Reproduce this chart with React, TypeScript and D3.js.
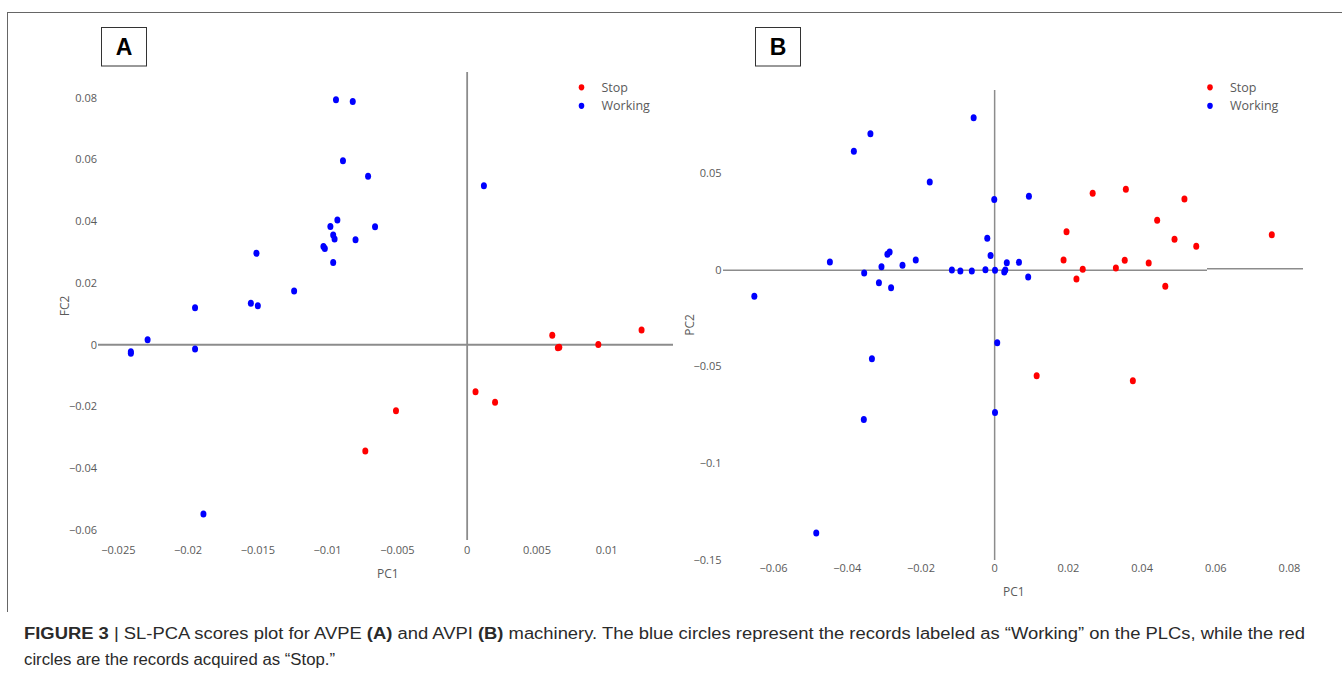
import React from "react";
import * as d3 from "d3";

// ---------- Panel A (AVPE) ----------
const aWorkingPC1 = [-0.0094, -0.0082, -0.0089, -0.0071, -0.0093, -0.0098, -0.0066, -0.0096, -0.0095, -0.008, -0.0103, -0.0102, -0.0096, -0.0151, -0.0124, -0.0155, -0.015, -0.0195, -0.0229, -0.0241, -0.0241, -0.0195, -0.0189, 0.0012];
const aWorkingPC2 = [0.0793, 0.0788, 0.0596, 0.0546, 0.0404, 0.0383, 0.0382, 0.0355, 0.0342, 0.034, 0.0318, 0.0312, 0.0266, 0.0296, 0.0174, 0.0134, 0.0126, 0.012, 0.0016, -0.0023, -0.0028, -0.0014, -0.0548, 0.0515];
const aStopPC1 = [0.0061, 0.0065, 0.0066, 0.0094, 0.0125, 0.0006, 0.002, -0.0051, -0.0073];
const aStopPC2 = [0.0031, -0.001, -0.0008, 0.0001, 0.0048, -0.0152, -0.0186, -0.0214, -0.0344];
const aXTicks = [-0.025, -0.02, -0.015, -0.01, -0.005, 0, 0.005, 0.01];
const aXTickLabels = ["\u22120.025", "\u22120.02", "\u22120.015", "\u22120.01", "\u22120.005", "0", "0.005", "0.01"];
const aYTicks = [-0.06, -0.04, -0.02, 0, 0.02, 0.04, 0.06, 0.08];
const aYTickLabels = ["\u22120.06", "\u22120.04", "\u22120.02", "0", "0.02", "0.04", "0.06", "0.08"];

// ---------- Panel B (AVPI) ----------
const bWorkingPC1 = [-0.0057, -0.0337, -0.0382, -0.0176, -0.0001, -0.002, -0.0011, 0.0033, -0.0447, -0.0285, -0.0291, -0.0307, -0.0354, -0.0314, -0.0281, -0.025, -0.0214, -0.0652, -0.0116, -0.0093, -0.0062, -0.0025, 0.0001, 0.0026, 0.0029, 0.0066, 0.0093, 0.0091, 0.0007, -0.0333, 0.0001, -0.0355, -0.0484];
const bWorkingPC2 = [0.0784, 0.0701, 0.0611, 0.0452, 0.0361, 0.0161, 0.0073, 0.0035, 0.0039, 0.009, 0.0079, 0.0014, -0.0018, -0.0068, -0.0094, 0.0022, 0.0049, -0.0138, -0.0003, -0.0008, -0.0008, -0.0001, -0.0004, -0.0013, -0.0003, 0.0037, 0.0378, -0.0039, -0.0378, -0.0461, -0.0738, -0.0774, -0.136];
const bStopPC1 = [0.0266, 0.0356, 0.0515, 0.0441, 0.0195, 0.0488, 0.0547, 0.0752, 0.0187, 0.0353, 0.0418, 0.0329, 0.0239, 0.0222, 0.0463, 0.0114, 0.0375];
const bStopPC2 = [0.0394, 0.0414, 0.0364, 0.0254, 0.0195, 0.0156, 0.012, 0.018, 0.0049, 0.0048, 0.0034, 0.0008, 0.0001, -0.0049, -0.0087, -0.0549, -0.0574];
const bXTicks = [-0.06, -0.04, -0.02, 0, 0.02, 0.04, 0.06, 0.08];
const bXTickLabels = ["\u22120.06", "\u22120.04", "\u22120.02", "0", "0.02", "0.04", "0.06", "0.08"];
const bYTicks = [-0.15, -0.1, -0.05, 0, 0.05];
const bYTickLabels = ["\u22120.15", "\u22120.1", "\u22120.05", "0", "0.05"];

const seriesNames = ["Stop", "Working"];
const seriesColors = ["#ff0000", "#0000ff"];

const TICK_FONT = "'Open Sans', 'DejaVu Sans', sans-serif";
const TEXT_GRAY = "#5a5a5a";
const AXIS_GRAY = "#8c8c8c";

type PanelProps = {
  letter: string;
  xScale: d3.ScaleLinear<number, number>;
  yScale: d3.ScaleLinear<number, number>;
  xTicks: number[];
  xTickLabels: string[];
  yTicks: number[];
  yTickLabels: string[];
  xTickY: number;
  yTickX: number;
  hLine: [number, number];
  vLine: [number, number];
  hSplit?: number;
  axisWidth: number;
  yLabel: string;
  yLabelPos: [number, number];
  xLabelPos: [number, number];
  legendPos: [number, number];
  boxX: number;
  stop: [number[], number[]];
  working: [number[], number[]];
};

function Panel(p: PanelProps) {
  const x0 = p.xScale(0);
  const y0 = p.yScale(0);
  const dots = (xs: number[], ys: number[], color: string) =>
    xs.map((v, i) => (
      <ellipse key={i} cx={p.xScale(v)} cy={p.yScale(ys[i])} rx={3} ry={3.5} fill={color} />
    ));
  return (
    <g>
      {/* panel letter box */}
      <rect x={p.boxX + 0.5} y={27.5} width={45} height={38.5} fill="#fff" stroke="#333" strokeWidth={1} />
      <text x={p.boxX + 23} y={55} textAnchor="middle" fontFamily="'Liberation Sans', Arial, sans-serif" fontWeight="bold" fontSize={23} fill="#000">
        {p.letter}
      </text>
      {/* zero axes */}
      {p.hSplit === undefined ? (
        <line x1={p.hLine[0]} x2={p.hLine[1]} y1={y0} y2={y0} stroke={AXIS_GRAY} strokeWidth={p.axisWidth} />
      ) : (
        <g>
          <line x1={p.hLine[0]} x2={p.hSplit} y1={y0 + 0.6} y2={y0 + 0.6} stroke={AXIS_GRAY} strokeWidth={p.axisWidth} />
          <line x1={p.hSplit} x2={p.hLine[1]} y1={y0 - 0.8} y2={y0 - 0.8} stroke={AXIS_GRAY} strokeWidth={p.axisWidth} />
        </g>
      )}
      <line x1={x0} x2={x0} y1={p.vLine[0]} y2={p.vLine[1]} stroke={AXIS_GRAY} strokeWidth={p.axisWidth} />
      {/* tick labels */}
      {p.xTicks.map((t, i) => (
        <text key={"x" + i} x={p.xScale(t)} y={p.xTickY} textAnchor="middle" fontFamily={TICK_FONT} fontSize={11} fill={TEXT_GRAY}>
          {p.xTickLabels[i]}
        </text>
      ))}
      {p.yTicks.map((t, i) => (
        <text key={"y" + i} x={p.yTickX} y={p.yScale(t) + 4} textAnchor="end" fontFamily={TICK_FONT} fontSize={11} fill={TEXT_GRAY}>
          {p.yTickLabels[i]}
        </text>
      ))}
      {/* axis titles */}
      <text x={p.xLabelPos[0]} y={p.xLabelPos[1]} fontFamily={TICK_FONT} fontSize={12} fill={TEXT_GRAY}>PC1</text>
      <text transform={`translate(${p.yLabelPos[0]},${p.yLabelPos[1]}) rotate(-90)`} textAnchor="middle" fontFamily={TICK_FONT} fontSize={12} fill={TEXT_GRAY}>
        {p.yLabel}
      </text>
      {/* points */}
      {dots(p.stop[0], p.stop[1], seriesColors[0])}
      {dots(p.working[0], p.working[1], seriesColors[1])}
      {/* legend */}
      {seriesNames.map((n, i) => (
        <g key={n} transform={`translate(${p.legendPos[0]},${p.legendPos[1] + i * 18.5})`}>
          <ellipse cx={0} cy={0} rx={2.8} ry={3.1} fill={seriesColors[i]} />
          <text x={20} y={4.5} fontFamily={TICK_FONT} fontSize={12.5} fill={TEXT_GRAY}>{n}</text>
        </g>
      ))}
    </g>
  );
}

export default function App() {
  const W = 1342;
  const H = 682;
  const xA = d3.scaleLinear().domain([-0.025, 0.01]).range([118.3, 606.7]);
  const yA = d3.scaleLinear().domain([-0.06, 0.08]).range([530, 97.7]);
  const xB = d3.scaleLinear().domain([-0.06, 0.08]).range([773.5, 1289.5]);
  const yB = d3.scaleLinear().domain([-0.15, 0.05]).range([560, 172.7]);
  const capFont = "'Liberation Sans Narrow', 'Liberation Sans', Arial, sans-serif";
  return (
    <svg width={W} height={H} style={{ position: "absolute", left: 0, top: 0, background: "#fff" }}>
      <rect x={0} y={0} width={W} height={H} fill="#fff" />
      {/* figure frame */}
      <line x1={7} x2={W} y1={12.5} y2={12.5} stroke="#666" strokeWidth={1} />
      <line x1={7.5} x2={7.5} y1={12} y2={612} stroke="#666" strokeWidth={1} />
      <Panel
        letter="A"
        xScale={xA}
        yScale={yA}
        xTicks={aXTicks}
        xTickLabels={aXTickLabels}
        yTicks={aYTicks}
        yTickLabels={aYTickLabels}
        xTickY={554}
        yTickX={97}
        hLine={[98, 673]}
        vLine={[72, 540]}
        axisWidth={1.8}
        yLabel="FC2"
        yLabelPos={[69, 306]}
        xLabelPos={[377, 578]}
        legendPos={[581.5, 87.3]}
        boxX={101}
        stop={[aStopPC1, aStopPC2]}
        working={[aWorkingPC1, aWorkingPC2]}
      />
      <Panel
        letter="B"
        xScale={xB}
        yScale={yB}
        xTicks={bXTicks}
        xTickLabels={bXTickLabels}
        yTicks={bYTicks}
        yTickLabels={bYTickLabels}
        xTickY={572}
        yTickX={721.5}
        hLine={[723, 1303]}
        vLine={[90, 560]}
        hSplit={1207}
        axisWidth={1.5}
        yLabel="PC2"
        yLabelPos={[694, 325]}
        xLabelPos={[1003, 596]}
        legendPos={[1210, 87.3]}
        boxX={755}
        stop={[bStopPC1, bStopPC2]}
        working={[bWorkingPC1, bWorkingPC2]}
      />
      {/* caption */}
      <text x={24} y={639} fontFamily={capFont} fontSize={16} fill="#2a2a2a" textLength={1281} lengthAdjust="spacingAndGlyphs">
        <tspan fontWeight="bold">FIGURE 3</tspan>
        <tspan> | SL-PCA scores plot for AVPE </tspan>
        <tspan fontWeight="bold">(A)</tspan>
        <tspan> and AVPI </tspan>
        <tspan fontWeight="bold">(B)</tspan>
        <tspan> machinery. The blue circles represent the records labeled as “Working” on the PLCs, while the red</tspan>
      </text>
      <text x={24} y={665} fontFamily={capFont} fontSize={16} fill="#2a2a2a" textLength={311} lengthAdjust="spacingAndGlyphs">
        circles are the records acquired as “Stop.”
      </text>
    </svg>
  );
}
